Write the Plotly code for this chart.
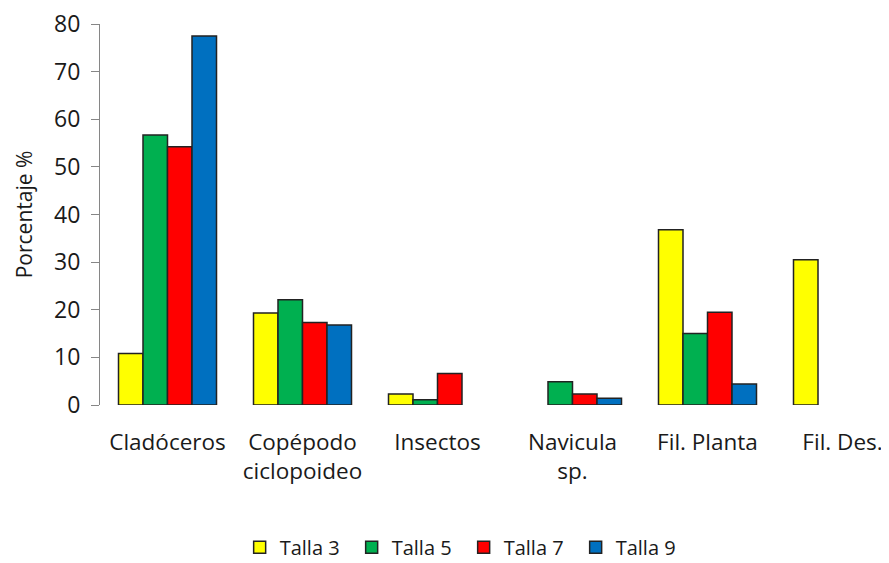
import plotly.graph_objects as go

categories = ["Cladóceros", "Copépodo<br>ciclopoideo", "Insectos", "Navicula<br>sp.", "Fil. Planta", "Fil. Des."]
series_names = ["Talla 3", "Talla 5", "Talla 7", "Talla 9"]
talla3 = [10.8, 19.3, 2.3, 0, 36.8, 30.5]
talla5 = [56.7, 22.1, 1.1, 4.9, 15.0, 0]
talla7 = [54.2, 17.3, 6.6, 2.3, 19.5, 0]
talla9 = [77.5, 16.8, 0, 1.4, 4.4, 0]
colors = ["#FFFF00", "#00B050", "#FF0000", "#0070C0"]
y_ticks = [0, 10, 20, 30, 40, 50, 60, 70, 80]

font_family = "Open Sans, Noto Sans, Liberation Sans, sans-serif"

fig = go.Figure()
for name, vals, col in zip(series_names, [talla3, talla5, talla7, talla9], colors):
    fig.add_trace(go.Bar(
        x=list(range(len(categories))), y=vals, name=name,
        marker=dict(color=col,
                    line=dict(color="#222222", width=[0 if v == 0 else 1.5 for v in vals])),
    ))

# page body has an 8px margin, so the figure is offset by 8px right/down
fig.update_layout(
    width=889, height=563,
    barmode="group", bargap=0.274, bargroupgap=0,
    plot_bgcolor="white", paper_bgcolor="white",
    margin=dict(l=92, r=8, t=16, b=165.5, autoexpand=False),
    font=dict(family=font_family, size=22, color="#1a1a1a"),
    showlegend=True,
    legend=dict(orientation="h", x=0.177, xanchor="left", y=-0.322, yanchor="top",
                font=dict(size=20), traceorder="normal",
                entrywidth=67, entrywidthmode="pixels"),
)
fig.update_xaxes(
    range=[-0.5, -0.5 + 789 / 135], automargin=False,
    tickmode="array", tickvals=list(range(len(categories))), ticktext=categories,
    showline=False, showgrid=False, zeroline=False, ticks="",
    ticklabelstandoff=21, tickfont=dict(size=22.5), ticklabeloverflow="allow",
)
fig.update_yaxes(
    range=[0, 80], tickvals=y_ticks, ticks="outside", ticklen=8, automargin=False,
    tickcolor="#868686", showline=True, linecolor="#868686", linewidth=1,
    showgrid=False, zeroline=False, tickfont=dict(size=23), ticklabelstandoff=6,
    ticklabeloverflow="allow",
    title=dict(text="Porcentaje %", font=dict(size=21), standoff=15),
)

fig.write_html("out.html")
